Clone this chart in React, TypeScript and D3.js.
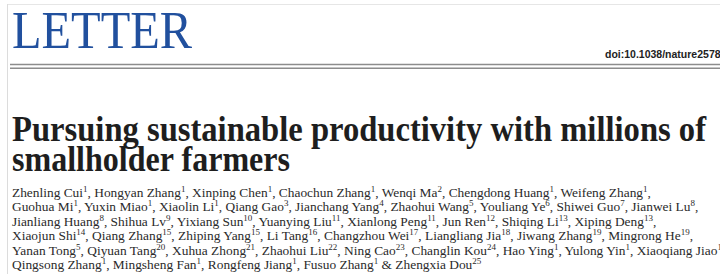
import React from "react";
import * as d3 from "d3";

const headerWord = "LETTER";
const doiText = "doi:10.1038/nature25785";
const titleLines = ["Pursuing sustainable productivity with millions of", "smallholder farmers"];
const authorLines: [string, string][][] = [
  [["Zhenling Cui", "1"], ["Hongyan Zhang", "1"], ["Xinping Chen", "1"], ["Chaochun Zhang", "1"], ["Wenqi Ma", "2"], ["Chengdong Huang", "1"], ["Weifeng Zhang", "1"]],
  [["Guohua Mi", "1"], ["Yuxin Miao", "1"], ["Xiaolin Li", "1"], ["Qiang Gao", "3"], ["Jianchang Yang", "4"], ["Zhaohui Wang", "5"], ["Youliang Ye", "6"], ["Shiwei Guo", "7"], ["Jianwei Lu", "8"]],
  [["Jianliang Huang", "8"], ["Shihua Lv", "9"], ["Yixiang Sun", "10"], ["Yuanying Liu", "11"], ["Xianlong Peng", "11"], ["Jun Ren", "12"], ["Shiqing Li", "13"], ["Xiping Deng", "13"]],
  [["Xiaojun Shi", "14"], ["Qiang Zhang", "15"], ["Zhiping Yang", "15"], ["Li Tang", "16"], ["Changzhou Wei", "17"], ["Liangliang Jia", "18"], ["Jiwang Zhang", "19"], ["Mingrong He", "19"]],
  [["Yanan Tong", "5"], ["Qiyuan Tang", "20"], ["Xuhua Zhong", "21"], ["Zhaohui Liu", "22"], ["Ning Cao", "23"], ["Changlin Kou", "24"], ["Hao Ying", "1"], ["Yulong Yin", "1"], ["Xiaoqiang Jiao", "1"]],
  [["Qingsong Zhang", "1"], ["Mingsheng Fan", "1"], ["Rongfeng Jiang", "1"], ["Fusuo Zhang", "1"], ["Zhengxia Dou", "25"]],
];

const W = 720;
const H = 274;

export default function App() {
  const yAuthor = d3.scaleLinear().domain([0, authorLines.length - 1]).range([196.5, 269]);
  const yTitle = d3.scaleLinear().domain([0, 1]).range([140.5, 170.5]);
  return (
    <svg width={W} height={H} style={{ position: "absolute", left: 0, top: 0, background: "#fff" }}>
      <rect x={0} y={0} width={W} height={H} fill="#fff" />
      <line x1={7} x2={W} y1={4.5} y2={4.5} stroke="#e6e6e6" strokeWidth={1} />
      <line x1={7.5} x2={7.5} y1={4} y2={H} stroke="#dcdcdc" strokeWidth={1} />
      <text x={12} y={48} fontFamily="Liberation Serif" fontSize={53} fill="#21509e" textLength={180} lengthAdjust="spacingAndGlyphs">
        {headerWord}
      </text>
      <text x={605} y={58} fontFamily="Liberation Sans" fontWeight="bold" fontSize={10.5} fill="#222">
        {doiText}
      </text>
      <line x1={10} x2={W} y1={64.5} y2={64.5} stroke="#8c8c8c" strokeWidth={1.6} />
      <line x1={10} x2={W} y1={68.2} y2={68.2} stroke="#8c8c8c" strokeWidth={1.6} />
      {titleLines.map((t, i) => (
        <text key={i} x={12} y={yTitle(i)} fontFamily="Liberation Serif" fontWeight="bold" fontSize={35} fill="#1e1e1e"
          textLength={i === 0 ? 694 : 278} lengthAdjust="spacingAndGlyphs">
          {t}
        </text>
      ))}
      {authorLines.map((line, li) => (
        <text key={li} x={12} y={yAuthor(li)} fontFamily="Liberation Serif" fontSize={13.4} fill="#2a2a2a">
          {line.map(([name, sup], k) => {
            const last = k === line.length - 1;
            const isFinalLine = li === authorLines.length - 1;
            let sep = "";
            if (isFinalLine) sep = k === line.length - 2 ? " & " : last ? "" : ", ";
            else sep = last ? "," : ", ";
            return (
              <React.Fragment key={k}>
                <tspan>{name}</tspan>
                <tspan fontSize={9} dy={-5}>{sup}</tspan>
                <tspan dy={5}>{sep}</tspan>
              </React.Fragment>
            );
          })}
        </text>
      ))}
    </svg>
  );
}
